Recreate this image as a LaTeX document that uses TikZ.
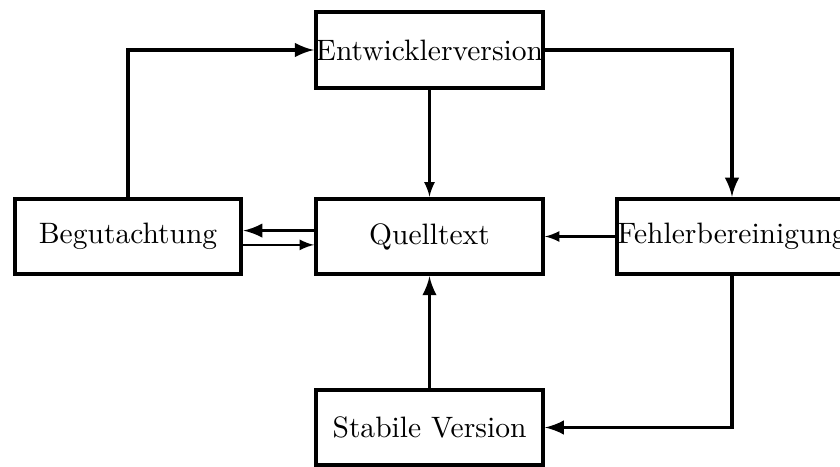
\documentclass[tikz,border=0pt]{standalone}
\begin{document}
\begin{tikzpicture}[
    box/.style={draw, line width=1.4pt, minimum width=2.7cm, minimum height=0.9cm, inner xsep=0pt},
    bigflow/.style={line width=1.2pt, -latex},
    smallflow/.style={line width=0.7pt, -latex}
]
    \useasboundingbox (0,0) rectangle (10,-5.548);

    % Boxes
    \node[box] (entw) at (5.113,-0.595) {Entwicklerversion};
    \node[box] (begut) at (1.524,-2.815) {Begutachtung};
    \node[box] (quell) at (5.113,-2.815) {Quelltext};
    \node[box] (fehler) at (8.714,-2.815) {Fehlerbereinigung};
    \node[box] (stabil) at (5.113,-5.089) {Stabile Version};

    % Outer cycle
    \draw[bigflow] (begut.north) |- (entw.west);
    \draw[bigflow] (entw.east) -| (fehler.north);
    \draw[bigflow] (fehler.south) |- (stabil.east);
    \draw[bigflow] (stabil.north) -- (quell.south);

    % Into and out of the source
    \draw[smallflow] (entw.south) -- (quell.north);
    \draw[smallflow] (fehler.west) -- (quell.east);
    \draw[bigflow] ([yshift=0.07cm]quell.west) -- ([yshift=0.07cm]begut.east);
    \draw[smallflow] ([yshift=-0.1cm]begut.east) -- ([yshift=-0.1cm]quell.west);
\end{tikzpicture}
\end{document}
